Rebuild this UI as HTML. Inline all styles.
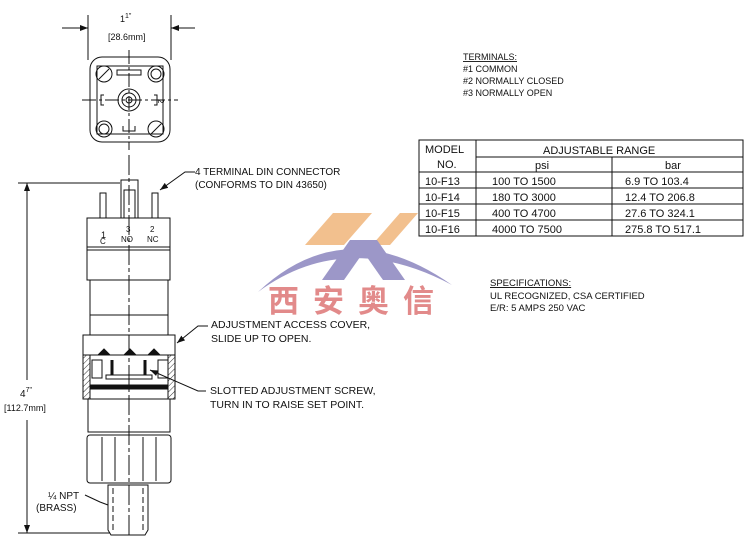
<!DOCTYPE html>
<html><head><meta charset="utf-8"><style>
html,body{margin:0;padding:0;background:#fff;}
svg{display:block;}
text{font-family:"Liberation Sans",sans-serif;fill:#111;}
</style></head><body>
<svg width="753" height="555" viewBox="0 0 753 555" xmlns="http://www.w3.org/2000/svg">
<defs>
<marker id="ar" markerWidth="8" markerHeight="6" refX="8" refY="3" orient="auto"><path d="M0,0 L8,3 L0,6z" fill="#111"/></marker>
<pattern id="hatch" width="4" height="4" patternUnits="userSpaceOnUse" patternTransform="rotate(45)"><line x1="0" y1="0" x2="0" y2="4" stroke="#333" stroke-width="1"/></pattern>
</defs>
<g stroke="#111" fill="none" stroke-width="1">
<line x1="88" y1="15" x2="88" y2="60"/><line x1="171" y1="15" x2="171" y2="60"/>
<line x1="62" y1="28" x2="88" y2="28" marker-end="url(#ar)"/>
<line x1="195" y1="28" x2="171" y2="28" marker-end="url(#ar)"/>
<rect x="90" y="57" width="80" height="85" rx="12"/>
<rect x="97" y="66" width="66" height="68"/>
<circle cx="104" cy="74" r="8"/><line x1="99" y1="79" x2="109" y2="69"/>
<circle cx="156" cy="74" r="8"/><circle cx="156" cy="74" r="5"/>
<circle cx="104" cy="129" r="8"/><circle cx="104" cy="129" r="5"/>
<circle cx="156" cy="129" r="8"/><line x1="151" y1="134" x2="161" y2="124"/>
<circle cx="129" cy="100" r="11"/><circle cx="129" cy="100" r="7"/><circle cx="129" cy="100" r="3"/>
<rect x="117" y="70" width="24" height="5"/>
<path d="M104,95 h-3 v10 h3"/><path d="M154,95 h3 v10 h-3"/>
<path d="M123,126 v5 h12 v-5"/>
<line x1="129" y1="50" x2="129" y2="150" stroke-dasharray="14,3,3,3"/>
<line x1="82" y1="100" x2="178" y2="100" stroke-dasharray="14,3,3,3"/>
<rect x="100" y="193" width="6" height="25"/><rect x="152" y="193" width="6" height="25"/>
<rect x="121" y="180" width="17" height="38"/><rect x="124" y="190" width="11" height="28"/>
<line x1="129" y1="155" x2="129" y2="535" stroke-dasharray="20,3,4,3"/>
<rect x="87" y="218" width="83" height="29"/>
<rect x="87" y="247" width="83" height="3"/>
<rect x="87" y="250" width="83" height="30"/>
<rect x="90" y="280" width="78" height="35"/>
<rect x="90" y="315" width="78" height="20"/>
<rect x="83" y="335" width="92" height="64"/>
<rect x="83" y="355" width="7" height="44" fill="url(#hatch)"/>
<rect x="168" y="355" width="7" height="44" fill="url(#hatch)"/>
<rect x="90" y="355" width="78" height="30"/>
<path d="M98,355 l6,-6 l6,6 M124,355 l6,-6 l6,6 M148,355 l6,-6 l6,6" fill="#111"/>
<rect x="92" y="360" width="10" height="18"/><rect x="158" y="360" width="10" height="18"/>
<rect x="106" y="375" width="46" height="4"/>
<line x1="112" y1="360" x2="112" y2="375" stroke-width="3"/><line x1="145" y1="360" x2="145" y2="375" stroke-width="3"/>
<rect x="90" y="385" width="78" height="4" fill="#111"/>
<rect x="88" y="399" width="82" height="33"/>
<rect x="87" y="435" width="84" height="48" rx="3"/>
<line x1="102" y1="437" x2="102" y2="481"/><line x1="115" y1="437" x2="115" y2="481"/>
<line x1="143" y1="437" x2="143" y2="481"/><line x1="156" y1="437" x2="156" y2="481"/>
<path d="M108,485 h40 v45 l-3,5 h-34 l-3,-5z"/>
<line x1="113" y1="488" x2="113" y2="530" stroke-dasharray="6,3"/><line x1="143" y1="488" x2="143" y2="530" stroke-dasharray="6,3"/>
<line x1="18" y1="183" x2="120" y2="183"/><line x1="18" y1="533" x2="110" y2="533"/>
<line x1="27" y1="380" x2="27" y2="183" marker-end="url(#ar)"/>
<line x1="27" y1="420" x2="27" y2="533" marker-end="url(#ar)"/>
<path d="M195,172 h-10 L160,190" marker-end="url(#ar)"/>
<path d="M208,326 h-10 L177,343" marker-end="url(#ar)"/>
<path d="M206,391 h-8 L150,370" marker-end="url(#ar)"/>
<path d="M85,495 L100,502 L108,505"/>
<rect x="419" y="140" width="324" height="96"/>
<line x1="476" y1="140" x2="476" y2="236"/>
<line x1="476" y1="157" x2="743" y2="157"/>
<line x1="612" y1="157" x2="612" y2="236"/>
<line x1="419" y1="172" x2="743" y2="172"/>
<line x1="419" y1="188" x2="743" y2="188"/>
<line x1="419" y1="204" x2="743" y2="204"/>
<line x1="419" y1="220" x2="743" y2="220"/>
</g>
<!-- logo -->
<g>
<polygon points="305,245 333,213 372,213 344,245" fill="#f2c08e"/>
<polygon points="372,245 400,213 418,213 390,245" fill="#f2c08e"/>
<path d="M258,292 Q345,210 452,285 Q345,228 258,292z" fill="#9c97c8"/>
<polygon points="322,280 350,240 372,240 344,280" fill="#9c97c8"/>
<polygon points="355,240 377,240 405,280 383,280" fill="#9c97c8"/>
</g>
<text x="268" y="312" font-size="31" font-weight="bold" letter-spacing="14" style="fill:#e28a8a;font-family:'Noto Sans CJK SC','WenQuanYi Zen Hei',sans-serif">西安奥信</text>
<g font-size="10">
<text x="120" y="22" font-size="9">1<tspan font-size="7" dy="-4">1</tspan><tspan font-size="7" dy="0">"</tspan></text>
<text x="108" y="40" font-size="9">[28.6mm]</text>
<text x="158" y="99" font-size="8" transform="rotate(90 158 99)">2</text>
<text x="101" y="238" font-size="9">1</text><text x="100" y="244" font-size="8">C</text>
<text x="126" y="232" font-size="8">3</text><text x="121" y="242" font-size="8">NO</text>
<text x="150" y="232" font-size="8">2</text><text x="147" y="242" font-size="8">NC</text>
<text x="195" y="175" font-size="10">4 TERMINAL DIN CONNECTOR</text>
<text x="195" y="188" font-size="10">(CONFORMS TO DIN 43650)</text>
<text x="211" y="328" font-size="10.5">ADJUSTMENT ACCESS COVER,</text>
<text x="211" y="342" font-size="10.5">SLIDE UP TO OPEN.</text>
<text x="210" y="394" font-size="10.5">SLOTTED ADJUSTMENT SCREW,</text>
<text x="210" y="408" font-size="10.5">TURN IN TO RAISE SET POINT.</text>
<text x="20" y="397" font-size="10">4<tspan font-size="7" dy="-5">7</tspan><tspan font-size="7">"</tspan></text>
<text x="4" y="411" font-size="9">[112.7mm]</text>
<text x="48" y="499" font-size="10">¼ NPT</text>
<text x="36" y="511" font-size="10">(BRASS)</text>
<text x="463" y="60" font-size="9" text-decoration="underline">TERMINALS:</text>
<text x="463" y="72" font-size="9">#1 COMMON</text>
<text x="463" y="84" font-size="9">#2 NORMALLY CLOSED</text>
<text x="463" y="96" font-size="9">#3 NORMALLY OPEN</text>
<text x="425" y="153" font-size="11">MODEL</text><text x="437" y="168" font-size="11">NO.</text>
<text x="543" y="154" font-size="11">ADJUSTABLE RANGE</text>
<text x="535" y="169" font-size="11">psi</text><text x="665" y="169" font-size="11">bar</text>
<text x="425" y="185" font-size="11">10-F13</text><text x="492" y="185" font-size="11">100 TO 1500</text><text x="625" y="185" font-size="11">6.9 TO 103.4</text>
<text x="425" y="201" font-size="11">10-F14</text><text x="492" y="201" font-size="11">180 TO 3000</text><text x="625" y="201" font-size="11">12.4 TO 206.8</text>
<text x="425" y="217" font-size="11">10-F15</text><text x="492" y="217" font-size="11">400 TO 4700</text><text x="625" y="217" font-size="11">27.6 TO 324.1</text>
<text x="425" y="233" font-size="11">10-F16</text><text x="492" y="233" font-size="11">4000 TO 7500</text><text x="625" y="233" font-size="11">275.8 TO 517.1</text>
<text x="490" y="286" font-size="9.5" text-decoration="underline">SPECIFICATIONS:</text>
<text x="490" y="299" font-size="9.5">UL RECOGNIZED, CSA CERTIFIED</text>
<text x="490" y="311" font-size="9.5">E/R: 5 AMPS 250 VAC</text>
</g>
</svg>
</body></html>
